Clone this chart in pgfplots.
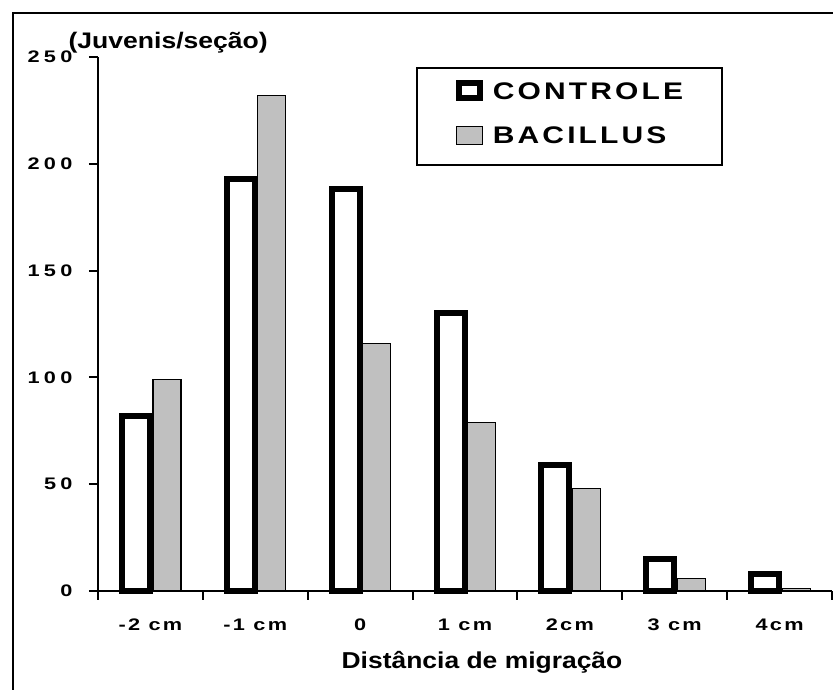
\documentclass[border=0pt]{standalone}
\usepackage{fontspec}
\setmainfont{Liberation Sans}
\newfontfamily\ytickfont[LetterSpace=26,FakeStretch=1.3]{Liberation Sans Bold}
\newfontfamily\xtickfont[LetterSpace=14,FakeStretch=1.3]{Liberation Sans Bold}
\newfontfamily\legfont[LetterSpace=13,FakeStretch=1.25]{Liberation Sans Bold}
\newfontfamily\xlabfont[FakeStretch=1.15]{Liberation Sans Bold}
\newfontfamily\ylabfont[FakeStretch=1.18]{Liberation Sans Bold}
\usepackage{pgfplots}
\pgfplotsset{compat=1.18}
\definecolor{barfill}{HTML}{C0C0C0}
\begin{document}
\begin{tikzpicture}[x=1pt,y=1pt]
\useasboundingbox (0,0) rectangle (833,690);
\draw[line width=2pt] (13,-20) -- (13,677) -- (880,677);
\begin{axis}[
  at={(98pt,99pt)}, anchor=south west,
  scale only axis, width=734pt, height=534pt,
  xmin=-0.5, xmax=6.5, ymin=0, ymax=250,
  axis lines=left, axis line style={-, line width=2pt},
  xtick={-0.5,0.5,...,6.5}, xticklabels={},
  extra x ticks={0,1,2,3,4,5,6},
  extra x tick labels={-2 cm,-1 cm,0,1 cm,2cm,3 cm,4cm},
  extra x tick style={major tick length=0pt, xticklabel style={anchor=base, yshift=-40pt, font=\xtickfont\fontsize{16.7}{16.7}\selectfont}},
  ytick={0,50,...,250},
  tick align=outside, major tick length=9pt,
  tick style={line width=2pt, black},
  /pgf/number format/assume math mode=true,
  yticklabel style={anchor=east, inner sep=0pt, xshift=-16.3pt, font=\ytickfont\fontsize{16.7}{16.7}\selectfont},
  clip=false,
  reverse legend,
  legend style={at={(0.4332,0.9813)}, anchor=north west, draw=black, line width=2pt,
    inner xsep=39pt, inner ysep=12.5pt, row sep=17.5pt, column sep=10pt,
    font=\legfont\fontsize{24}{24}\selectfont, nodes={inner sep=0pt, text height=17.5pt, text depth=0pt}},
  legend cell align=left,
]
\addplot[ybar, bar width=28pt, bar shift=16.6pt, fill=barfill, draw=black, line width=1.2pt,
  legend image code/.code={\draw[fill=barfill, draw=black, line width=1.2pt] (0.6pt,-0.3pt) rectangle (26.4pt,17.5pt);}]
  coordinates {(0,99) (1,232) (2,116) (3,79) (4,48) (5,6) (6,1)};
\addlegendentry{\raisebox{9pt}{BACILLUS}}
\addplot[ybar, bar width=28pt, bar shift=-14.4pt, fill=white, draw=black, line width=6pt, line join=miter,
  legend image code/.code={\draw[fill=white, draw=black, line width=6pt, line join=miter] (3pt,1.1pt) rectangle (24pt,16.1pt);}]
  coordinates {(0,82) (1,193) (2,188) (3,130) (4,59) (5,15) (6,8)};
\addlegendentry{\raisebox{9pt}{CONTROLE}}
\end{axis}
\node[font=\ylabfont\fontsize{22.5}{22.5}\selectfont, anchor=base west, inner sep=0pt] at (68.4,641) {(Juvenis/seção)};
\node[font=\xlabfont\fontsize{23}{23}\selectfont, anchor=base, inner sep=0pt] at (482,21.7) {Distância de migração};
\end{tikzpicture}
\end{document}
